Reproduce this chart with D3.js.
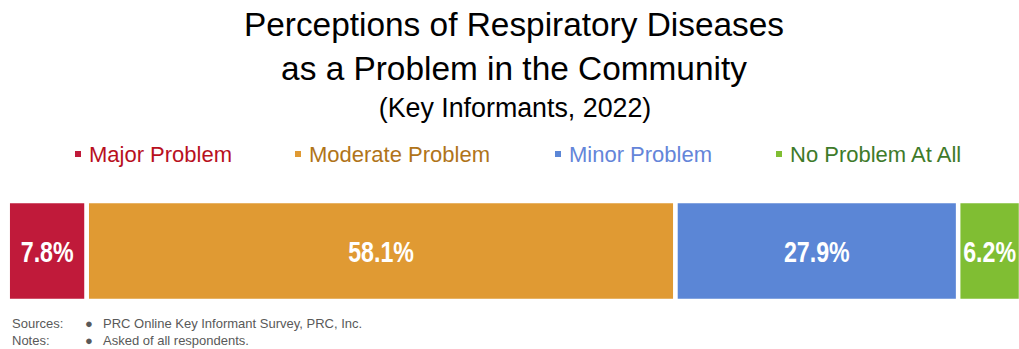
<!DOCTYPE html>
<html><head><meta charset="utf-8">
<script src="https://cdn.jsdelivr.net/npm/d3@7"></script>
<style>body{margin:0;background:#fff}svg{display:block}</style>
</head><body>
<svg id="c" width="1019" height="349"></svg>
<script>
const categories = ["Major Problem", "Moderate Problem", "Minor Problem", "No Problem At All"];
const values = [7.8, 58.1, 27.9, 6.2];
const barColors = ["#C01A3A", "#E09A33", "#5B86D6", "#80BE33"];
const legendTextColors = ["#B8101E", "#B07419", "#6485D9", "#3E7A2A"];
const legendX = [75, 295, 555, 776];

const svg = d3.select("#c");
const font = "'Liberation Sans', Arial, sans-serif";

svg.append("text").attr("x", 514).attr("y", 36).attr("text-anchor", "middle")
  .attr("font-family", font).attr("font-size", 33.4).attr("fill", "#000")
  .text("Perceptions of Respiratory Diseases");
svg.append("text").attr("x", 514).attr("y", 80).attr("text-anchor", "middle")
  .attr("font-family", font).attr("font-size", 33.4).attr("fill", "#000")
  .text("as a Problem in the Community");
svg.append("text").attr("x", 515).attr("y", 117).attr("text-anchor", "middle")
  .attr("font-family", font).attr("font-size", 26.8).attr("fill", "#000")
  .text("(Key Informants, 2022)");

// legend
const lg = svg.append("g");
categories.forEach((c, i) => {
  lg.append("rect").attr("x", legendX[i]).attr("y", 151).attr("width", 6).attr("height", 6)
    .attr("fill", barColors[i]);
  lg.append("text").attr("x", legendX[i] + 14).attr("y", 162)
    .attr("font-family", font).attr("font-size", 22).attr("fill", legendTextColors[i])
    .text(c);
});

// stacked bar
const x = d3.scaleLinear().domain([0, 100]).range([7.7, 1021]);
let cum = 0;
const segs = values.map((v, i) => { const s = {v, i, x0: cum, x1: cum + v}; cum += v; return s; });
const y0 = 201, y1 = 301;
svg.append("g").selectAll("rect").data(segs).join("rect")
  .attr("x", d => x(d.x0)).attr("y", y0)
  .attr("width", d => x(d.x1) - x(d.x0)).attr("height", y1 - y0)
  .attr("fill", d => barColors[d.i]).attr("stroke", "#fff").attr("stroke-width", 4.5);
svg.append("g").selectAll("text").data(segs).join("text")
  .attr("transform", d => `translate(${(x(d.x0) + x(d.x1)) / 2},262) scale(0.8,1)`)
  .attr("text-anchor", "middle")
  .attr("font-family", font)
  .attr("font-weight", "bold").attr("font-size", 29).attr("fill", "#fff")
  .text(d => d.v.toFixed(1) + "%");

// footer
const ff = svg.append("g").attr("font-family", font).attr("font-size", 13).attr("fill", "#595959");
ff.append("text").attr("x", 12).attr("y", 328).text("Sources:");
ff.append("text").attr("x", 85).attr("y", 328).text("●");
ff.append("text").attr("x", 103).attr("y", 328).text("PRC Online Key Informant Survey, PRC, Inc.");
ff.append("text").attr("x", 12).attr("y", 345).text("Notes:");
ff.append("text").attr("x", 85).attr("y", 345).text("●");
ff.append("text").attr("x", 103).attr("y", 345).text("Asked of all respondents.");
</script>
</body></html>
